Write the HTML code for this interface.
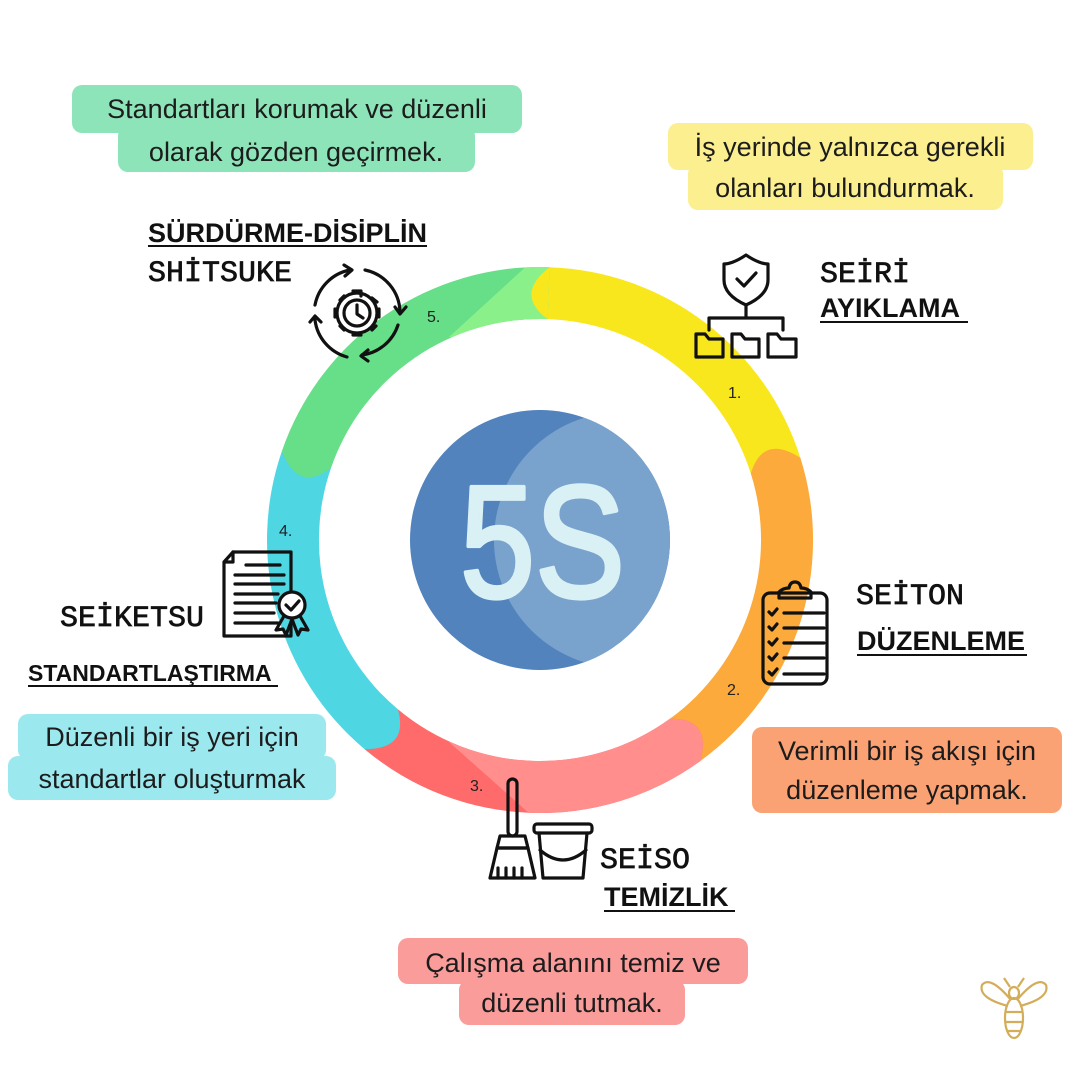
<!DOCTYPE html>
<html><head><meta charset="utf-8"><style>
html,body{margin:0;padding:0;background:#fff;}
svg{display:block;}
.d{font-family:"Liberation Sans",sans-serif;font-size:27px;fill:#1c1c1c;text-anchor:middle;}
.m{font-family:"Liberation Mono",monospace;font-size:30px;fill:#111;stroke:#111;stroke-width:0.7;}
.b{font-family:"Liberation Sans",sans-serif;font-weight:bold;font-size:27px;fill:#111;}
.n{font-family:"Liberation Sans",sans-serif;font-size:16px;fill:#222;}
.ic{fill:none;stroke:#111;stroke-width:3.2;stroke-linecap:round;stroke-linejoin:round;}
</style></head><body>
<svg width="1080" height="1080" viewBox="0 0 1080 1080" xmlns="http://www.w3.org/2000/svg">
<defs>
<clipPath id="pc"><path d="M 700.5 760.9 A 273 273 0 0 1 364.5 749.1 L 397.9 709.3 A 221 221 0 0 0 669.9 718.8 Q 711.6 717.7 700.5 760.9 Z"/></clipPath>
<clipPath id="gc"><path d="M 281.9 451.1 A 273 273 0 0 1 549.5 267.2 L 547.7 319.1 A 221 221 0 0 0 331.0 468.0 Q 297.5 492.9 281.9 451.1 Z"/></clipPath>
<clipPath id="cc"><circle cx="540" cy="540" r="130"/></clipPath>
</defs>

<path fill="#f9e71e" d="M 549.5 267.2 A 273 273 0 0 1 800.4 457.9 L 750.8 473.5 A 221 221 0 0 0 547.7 319.1 Q 514.2 294.4 549.5 267.2 Z"/>
<path fill="#fcaa3b" d="M 800.4 457.9 A 273 273 0 0 1 700.5 760.9 L 669.9 718.8 A 221 221 0 0 0 750.8 473.5 Q 762.9 433.7 800.4 457.9 Z"/>
<path fill="#ff6a6a" d="M 700.5 760.9 A 273 273 0 0 1 364.5 749.1 L 397.9 709.3 A 221 221 0 0 0 669.9 718.8 Q 711.6 717.7 700.5 760.9 Z"/>
<polygon clip-path="url(#pc)" fill="#ff8e8c" points="449,742 531,815 730,815 730,690 449,690"/>
<path fill="#4ed6e3" d="M 364.5 749.1 A 273 273 0 0 1 281.9 451.1 L 331.0 468.0 A 221 221 0 0 0 397.9 709.3 Q 409.1 749.5 364.5 749.1 Z"/>
<path fill="#67de88" d="M 281.9 451.1 A 273 273 0 0 1 549.5 267.2 L 547.7 319.1 A 221 221 0 0 0 331.0 468.0 Q 297.5 492.9 281.9 451.1 Z"/>
<polygon clip-path="url(#gc)" fill="#8af08a" points="449,337 531,262 560,262 560,340"/>
<path fill="#f9e71e" d="M 549.5 267.2 L 547.7 319.1 Q 514.2 294.4 549.5 267.2 Z"/>

<circle cx="540" cy="540" r="130" fill="#5283bd"/>
<circle cx="622" cy="540" r="128" fill="#79a3cd" clip-path="url(#cc)"/>
<text x="460" y="597" font-family="Liberation Sans,sans-serif" font-size="160" fill="#d9f0f4" stroke="#d9f0f4" stroke-width="4" stroke-linejoin="round" textLength="165" lengthAdjust="spacingAndGlyphs">5S</text>

<rect x="72" y="85" width="450" height="48" rx="10" fill="#8ee4b9"/>
<rect x="118" y="126" width="357" height="46" rx="10" fill="#8ee4b9"/>
<text class="d" x="297" y="118">Standartları korumak ve düzenli</text>
<text class="d" x="296" y="161">olarak gözden geçirmek.</text>

<rect x="668" y="123" width="365" height="47" rx="10" fill="#fbef8f"/>
<rect x="688" y="164" width="315" height="46" rx="10" fill="#fbef8f"/>
<text class="d" x="850" y="156">İş yerinde yalnızca gerekli</text>
<text class="d" x="845" y="197">olanları bulundurmak.</text>

<rect x="752" y="727" width="310" height="86" rx="10" fill="#fba274"/>
<text class="d" x="907" y="760">Verimli bir iş akışı için</text>
<text class="d" x="907" y="799">düzenleme yapmak.</text>

<rect x="18" y="714" width="308" height="46" rx="10" fill="#9ce8ef"/>
<rect x="8" y="756" width="328" height="44" rx="10" fill="#9ce8ef"/>
<text class="d" x="172" y="746">Düzenli bir iş yeri için</text>
<text class="d" x="172" y="788">standartlar oluşturmak</text>

<rect x="398" y="938" width="350" height="46" rx="10" fill="#f99c9a"/>
<rect x="459" y="980" width="226" height="45" rx="10" fill="#f99c9a"/>
<text class="d" x="573" y="972">Çalışma alanını temiz ve</text>
<text class="d" x="572" y="1012">düzenli tutmak.</text>

<text class="b" x="148" y="242">SÜRDÜRME-DİSİPLİN</text>
<line x1="148" y1="246" x2="427" y2="246" stroke="#111" stroke-width="2"/>
<text class="m" x="148" y="281">SHİTSUKE</text>

<text class="m" x="820" y="282">SEİRİ</text>
<text class="b" x="820" y="317">AYIKLAMA</text>
<line x1="820" y1="322" x2="968" y2="322" stroke="#111" stroke-width="2"/>

<text class="m" x="856" y="604">SEİTON</text>
<text class="b" x="857" y="650">DÜZENLEME</text>
<line x1="857" y1="655" x2="1027" y2="655" stroke="#111" stroke-width="2"/>

<text class="m" x="60" y="626">SEİKETSU</text>
<text class="b" x="28" y="681" style="font-size:23px">STANDARTLAŞTIRMA</text>
<line x1="28" y1="686" x2="278" y2="686" stroke="#111" stroke-width="2"/>

<text class="m" x="600" y="868">SEİSO</text>
<text class="b" x="604" y="906">TEMİZLİK</text>
<line x1="604" y1="911" x2="735" y2="911" stroke="#111" stroke-width="2"/>

<text class="n" x="728" y="398">1.</text>
<text class="n" x="727" y="695">2.</text>
<text class="n" x="470" y="791">3.</text>
<text class="n" x="279" y="536">4.</text>
<text class="n" x="427" y="322">5.</text>

<g class="ic">
<path d="M746 255 C736 262 728 264 724 264 L724 280 C724 292 735 300 746 305 C757 300 768 292 768 280 L768 264 C764 264 756 262 746 255 Z"/>
<path d="M737 279 L744 286 L756 273"/>
<path d="M746 305 L746 318 M709 330 L709 318 L783 318 L783 330"/>
<path d="M696 334 L705 334 L709 339 L723 339 L723 357 L696 357 Z"/>
<path d="M732 334 L741 334 L745 339 L759 339 L759 357 L732 357 Z"/>
<path d="M768 334 L777 334 L781 339 L796 339 L796 357 L768 357 Z"/>
</g>

<g class="ic" stroke-width="2.8">
<path d="M350 270 A44 44 0 0 0 315 305"/>
<path d="M365 270 A44 44 0 0 1 400 312"/>
<path d="M398 325 A44 44 0 0 1 362 355"/>
<path d="M347 357 A44 44 0 0 1 315 320"/>
<path d="M344 265 L352 270 L345 276"/><path d="M395 307 L400 314 L406 307"/><path d="M368 350 L361 356 L368 361"/><path d="M310 322 L315 316 L321 322"/>
<circle cx="357" cy="313" r="20"/>
<circle cx="357" cy="313" r="13"/>
<path d="M357 305 L357 314 L363 318"/>
<path d="M353 291 L361 291 L361 296 M372 298 L377 302 M379 309 L379 317 M353 335 L361 335 M335 309 L335 317 M340 300 L344 296 M340 326 L344 330 M372 330 L376 326"/>
</g>

<g class="ic">
<rect x="763" y="593" width="64" height="91" rx="7"/>
<path d="M779 598 L779 592 Q783 588 789 588 Q790 582 795 582 Q800 582 801 588 Q807 588 811 592 L811 598 Z"/>
<path d="M784 613 L824 613 M784 628 L824 628 M784 643 L824 643 M784 658 L824 658 M784 674 L824 674"/>
<path d="M769 612 L772 615 L777 609 M769 627 L772 630 L777 624 M769 642 L772 645 L777 639 M769 657 L772 660 L777 654 M769 672 L772 675 L777 669"/>
</g>

<g class="ic" stroke-width="2.8">
<path d="M233 552 L291 552 L291 590"/>
<path d="M291 624 L291 636 L224 636 L224 562 L233 552 L233 562 L224 562"/>
<path d="M246 565 L280 565 M235 575 L284 575 M235 584 L284 584 M235 594 L278 594 M235 603 L276 603 M235 613 L274 613 M235 623 L278 623"/>
<circle cx="292" cy="605" r="13" fill="#fff"/>
<path d="M286 605 L291 610 L299 601"/>
<path d="M284 616 L276 630 L283 629 L286 635 L292 619 L298 635 L301 629 L308 630 L300 616"/>
</g>

<g class="ic">
<rect x="508" y="779" width="9" height="57" rx="4.5"/>
<path d="M500 836 L525 836 L528 848 L497 848 Z"/>
<path d="M497 848 L528 848 L535 878 L490 878 Z"/>
<path d="M498 878 L498 868 M506 878 L506 868 M514 878 L514 868 M522 878 L522 868"/>
<rect x="534" y="824" width="58" height="9" rx="3"/>
<path d="M539 833 L543 878 L583 878 L587 833"/>
<path d="M540 850 Q563 870 586 850"/>
</g>

<g fill="none" stroke="#d3ad5a" stroke-width="2.2">
<path d="M1011 1000 Q990 975 982 985 Q978 998 1008 1006"/>
<path d="M1017 1000 Q1038 975 1046 985 Q1050 998 1020 1006"/>
<ellipse cx="1014" cy="993" rx="5" ry="6"/>
<ellipse cx="1014" cy="1018" rx="9" ry="20"/>
<path d="M1006 1012 L1022 1012 M1005 1022 L1023 1022 M1008 1031 L1020 1031"/>
<path d="M1010 987 L1004 978 M1018 987 L1024 978"/>
</g>
</svg>
</body></html>
